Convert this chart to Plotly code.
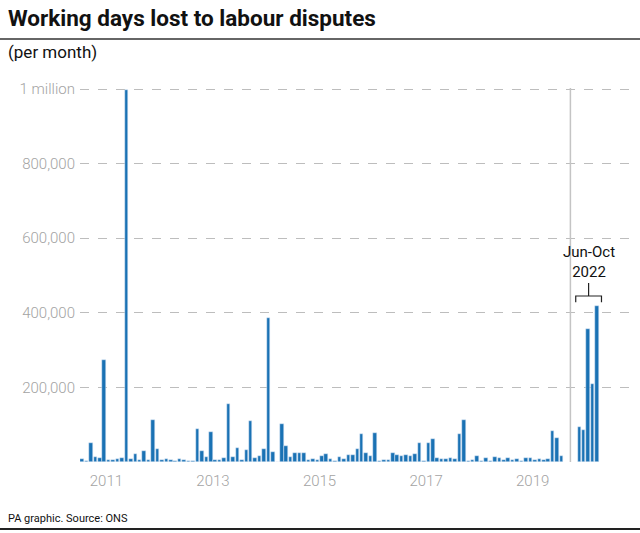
import plotly.graph_objects as go
import pandas as pd

# Monthly working days lost, Jan 2011 - Jan 2020
months = [d.strftime("%b %Y") for d in pd.date_range("2011-01-01", periods=109, freq="MS")]
days_lost = [
    8000, 3000, 51000, 13000, 10000, 273000, 5000, 5000, 7000, 12000, 998000, 8000,
    22000, 6000, 30000, 5000, 112000, 35000, 5000, 8000, 6000, 2000, 8000, 5000,
    4000, 2000, 88000, 30000, 14000, 80000, 6000, 6000, 10000, 155000, 14000, 38000,
    5000, 32000, 110000, 11000, 16000, 35000, 386000, 27000, 1000, 102000, 43000, 14000,
    24000, 24000, 24000, 5000, 8000, 5000, 16000, 22000, 8000, 2000, 14000, 8000,
    19000, 19000, 35000, 75000, 24000, 16000, 78000, 2000, 6000, 6000, 24000, 20000,
    16000, 19000, 17000, 21000, 51000, 2000, 51000, 62000, 10000, 8000, 8000, 10000,
    8000, 75000, 113000, 2000, 6000, 16000, 3000, 10000, 3000, 14000, 10000, 6000,
    10000, 5000, 8000, 3000, 10000, 10000, 6000, 8000, 6000, 8000, 83000, 64000,
    16000,
]

# Jun - Oct 2022
months_2022 = ["Jun 2022", "Jul 2022", "Aug 2022", "Sep 2022", "Oct 2022"]
days_lost_2022 = [94000, 86000, 356000, 209000, 418000]

year_labels = ["2011", "2013", "2015", "2017", "2019"]
y_ticks = [200000, 400000, 600000, 800000, 1000000]
y_tick_text = ["200,000", "400,000", "600,000", "800,000", "1 million"]

BAR = "#1a72b4"
GRID = "#bdbdbd"
FONT = "Roboto"

x_main = list(range(len(days_lost)))
gap_start = len(days_lost) + 3
x_2022 = [gap_start + i for i in range(len(days_lost_2022))]
sep_x = len(days_lost) + 1
year_x = [months.index("Jan " + y) + 5.5 for y in year_labels]

fig = go.Figure()
fig.add_trace(go.Bar(x=x_main, y=days_lost, marker_color=BAR, width=0.8,
                     hovertext=months, showlegend=False))
fig.add_trace(go.Bar(x=x_2022, y=days_lost_2022, marker_color=BAR, width=0.8,
                     hovertext=months_2022, showlegend=False))

L, R, T, B = 80, 10, 85, 71
W, H = 640, 533
pw, ph = W - L - R, H - T - B
ymax = 1000000 * ph / 373.0

def px(xp):
    return (xp - L) / pw

def py(yp):
    return (H - B - yp) / ph

fig.update_layout(
    width=W, height=H,
    margin=dict(l=L, r=R, t=T, b=B, pad=0),
    plot_bgcolor="white", paper_bgcolor="white",
    bargap=0,
    font=dict(family=FONT, color="#999999", size=15),
    xaxis=dict(range=[-0.45, -0.45 + pw / 4.44], tickvals=year_x, ticktext=year_labels,
               showgrid=False, zeroline=False, showline=False, ticks="",
               ticklabelstandoff=8,
               tickfont=dict(size=15, color="#a3a3a3", weight=300)),
    yaxis=dict(range=[0, ymax], tickvals=y_ticks, ticktext=y_tick_text,
               showgrid=True, gridcolor=GRID, griddash="dash", gridwidth=1,
               zeroline=False, showline=False, ticks="",
               ticklabelstandoff=4,
               tickfont=dict(size=15, color="#a3a3a3", weight=300)),
)

# separator line
fig.add_shape(type="line", xref="x", yref="y", x0=sep_x, x1=sep_x, y0=0, y1=1003000,
              line=dict(color="#c4c4c4", width=1.5))

# bracket
bx0, bx1 = x_2022[0] - 0.8, x_2022[-1] + 1.0
bmid = (bx0 + bx1) / 2
fig.add_shape(type="path", xref="x", yref="y",
              path=f"M {bx0},428000 L {bx0},445000 L {bx1},445000 L {bx1},428000",
              line=dict(color="#222222", width=1.2))
fig.add_shape(type="line", xref="x", yref="y", x0=bmid, x1=bmid, y0=445000, y1=480000,
              line=dict(color="#222222", width=1.2))
fig.add_annotation(xref="x", yref="y", x=bmid, y=536000, text="Jun-Oct<br>2022",
                   showarrow=False, font=dict(size=15, color="#111111", family=FONT),
                   align="center", xanchor="center", yanchor="middle")

# title and texts
fig.add_annotation(xref="paper", yref="paper", x=px(6), y=py(18), text="<b>Working days lost to labour disputes</b>",
                   showarrow=False, xanchor="left", yanchor="middle",
                   font=dict(size=22.5, color="#111111", family=FONT))
fig.add_shape(type="line", xref="paper", yref="paper", x0=px(0), x1=px(640), y0=py(39), y1=py(39),
              line=dict(color="#333333", width=1.5))
fig.add_annotation(xref="paper", yref="paper", x=px(6), y=py(52), text="(per month)",
                   showarrow=False, xanchor="left", yanchor="middle",
                   font=dict(size=17, color="#111111", family=FONT))
fig.add_annotation(xref="paper", yref="paper", x=px(6), y=py(518), text="PA graphic. Source: ONS",
                   showarrow=False, xanchor="left", yanchor="middle",
                   font=dict(size=11, color="#111111", family=FONT))
fig.add_shape(type="line", xref="paper", yref="paper", x0=px(0), x1=px(640), y0=py(529), y1=py(529),
              line=dict(color="#222222", width=2))

fig.write_html("out.html")
